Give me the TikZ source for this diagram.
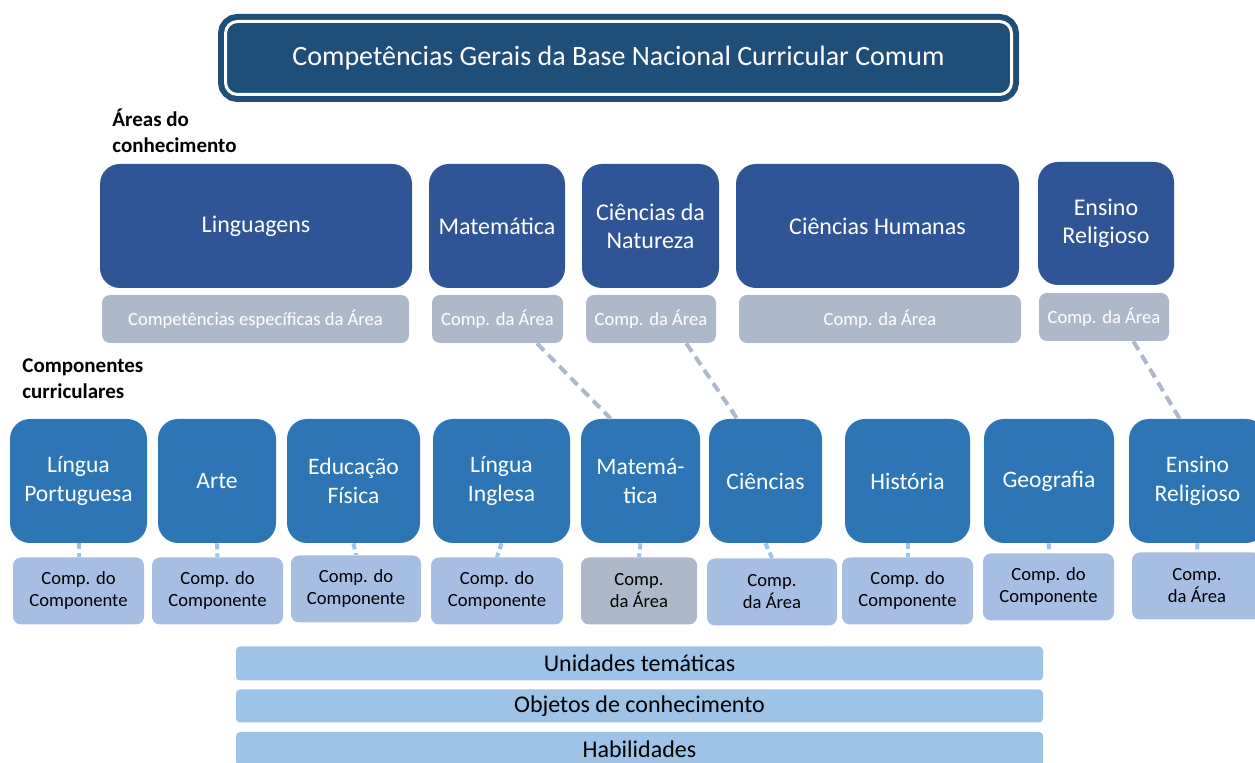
\documentclass[tikz,border=0pt]{standalone}
\usepackage{fontspec}
\setmainfont{Carlito}
\usepackage{tikz}
\usetikzlibrary{positioning,calc}
\definecolor{titulo}{RGB}{31,78,121}
\definecolor{area}{RGB}{47,85,151}
\definecolor{cinza}{RGB}{173,185,202}
\definecolor{comp}{RGB}{46,117,182}
\definecolor{compclaro}{RGB}{166,190,226}
\definecolor{faixa}{RGB}{157,195,230}

\tikzset{
  dim/.style 2 args={minimum width=#1*0.5pt,minimum height=#2*0.5pt,inner sep=0pt},
  areabox/.style={fill=area,rounded corners=10pt,text=white,align=center,
    font=\fontsize{12}{14}\selectfont},
  areacomp/.style={fill=cinza,rounded corners=4pt,text=white,
    font=\fontsize{9.3}{11}\selectfont},
  compbox/.style={fill=comp,rounded corners=10pt,text=white,align=center,
    font=\fontsize{11.8}{14.5}\selectfont},
  compinfo/.style={fill=compclaro,rounded corners=4pt,align=center,
    font=\fontsize{9.3}{11}\selectfont},
  faixabox/.style={fill=faixa,rounded corners=2pt,dim={807}{34},
    font=\fontsize{12}{14}\selectfont},
  rotulo/.style={anchor=north west,align=left,inner sep=0pt,
    font=\fontsize{10.5}{13}\selectfont\bfseries},
  ligacao/.style={draw=cinza,line width=2pt,dash pattern=on 5pt off 3pt},
  curta/.style={draw=faixa,line width=2pt,dash pattern=on 3pt off 2pt},
}

\begin{document}
\begin{tikzpicture}[x=0.5pt,y=-0.5pt]
    \useasboundingbox (0,0) rectangle (1255,763);

    % Titulo
    \node[draw=titulo,double=white,line width=3pt,double distance=1.5pt,
      fill=titulo,rounded corners=6pt,dim={786}{73},text=white,
      font=\fontsize{14}{16}\selectfont] (tit) at (618.5,58)
      {Competências Gerais da Base Nacional Curricular Comum};

    % Areas do conhecimento
    \node[rotulo] (lblarea) at (112,108) {Áreas do\\conhecimento};
    \node[areabox,dim={312}{124}] (ling) at (256,226) {Linguagens};
    \node[areabox,dim={136}{124}] (mat) at (497,226) {Matemática};
    \node[areabox,dim={137}{124}] (cnat) at (650.5,226) {Ciências da\\Natureza};
    \node[areabox,dim={283}{124}] (chum) at (877.5,226) {Ciências Humanas};
    \node[areabox,dim={136}{123}] (ensr) at (1106,223.5) {Ensino\\Religioso};

    % Competencias das areas
    \node[areacomp,dim={307}{48}] (lingc) at (255.5,319) {Competências específicas da Área};
    \node[areacomp,dim={131}{48}] (matc) at (497.5,319) {Comp. da Área};
    \node[areacomp,dim={130}{48}] (cnatc) at (651,319) {Comp. da Área};
    \node[areacomp,dim={282}{48}] (chumc) at (880,319) {Comp. da Área};
    \node[areacomp,dim={130}{48}] (ensrc) at (1104,317) {Comp. da Área};

    % Componentes curriculares
    \node[rotulo] (lblcomp) at (22,358) {Componentes\\curriculares};
    \node[compbox,dim={137}{124}] (lp) at (78.5,481) {Língua\\Portuguesa};
    \node[compbox,dim={118}{124}] (arte) at (217,481) {Arte};
    \node[compbox,dim={133}{124}] (edf) at (353.5,481) {Educação\\Física};
    \node[compbox,dim={137}{124}] (li) at (501.5,481) {Língua\\Inglesa};
    \node[compbox,dim={119}{124}] (cmat) at (640.5,481) {Matemá-\\tica};
    \node[compbox,dim={113}{124}] (cie) at (765.5,481) {Ciências};
    \node[compbox,dim={125}{124}] (his) at (907.5,481) {História};
    \node[compbox,dim={130}{124}] (geo) at (1049,481) {Geografia};
    \node[compbox,dim={137}{124}] (cer) at (1197.5,481) {Ensino\\Religioso};

    % Competencias dos componentes
    \node[compinfo,dim={131}{67}] (lpc) at (78.5,591) {Comp. do\\Componente};
    \node[compinfo,dim={131}{67}] (artec) at (217.5,591) {Comp. do\\Componente};
    \node[compinfo,dim={130}{67}] (edfc) at (356,589) {Comp. do\\Componente};
    \node[compinfo,dim={132}{67}] (lic) at (497,591) {Comp. do\\Componente};
    \node[compinfo,fill=cinza,dim={116}{67}] (cmatc) at (639,591) {Comp.\\da Área};
    \node[compinfo,dim={130}{67}] (ciec) at (772,592) {Comp.\\da Área};
    \node[compinfo,dim={131}{67}] (hisc) at (907.5,591) {Comp. do\\Componente};
    \node[compinfo,dim={131}{67}] (geoc) at (1048.5,587) {Comp. do\\Componente};
    \node[compinfo,dim={130}{67}] (cerc) at (1197,586) {Comp.\\da Área};

    % Ligacoes curtas
    \foreach \a/\b in {lp/lpc,arte/artec,edf/edfc,li/lic,cmat/cmatc,cie/ciec,his/hisc,geo/geoc,cer/cerc}
      \draw[curta] (\a.south) -- (\b.north);

    % Ligacoes area -> componente
    \draw[ligacao] ($(matc.south)!0.6!(matc.south east)$) -- ($(cmat.north)!0.5!(cmat.north west)$);
    \draw[ligacao] ($(cnatc.south)!0.54!(cnatc.south east)$) -- ($(cie.north)!0.5!(cie.north west)$);
    \draw[ligacao] ($(ensrc.south)!0.45!(ensrc.south east)$) -- ($(cer.north)!0.26!(cer.north west)$);

    % Faixas
    \node[faixabox] (unid) at (639.5,663.5) {Unidades temáticas};
    \node[faixabox,dim={807}{33}] (obj) at (639.5,706) {Objetos de conhecimento};
    \node[faixabox] (hab) at (639.5,749) {Habilidades};

\end{tikzpicture}
\end{document}
